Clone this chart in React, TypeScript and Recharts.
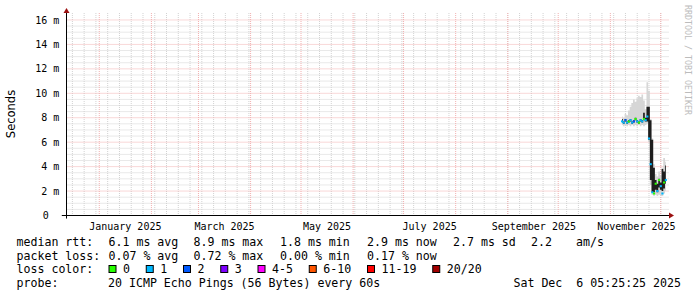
import {
  Area,
  CartesianGrid,
  ComposedChart,
  ReferenceDot,
  ReferenceLine,
  Scatter,
  XAxis,
  YAxis,
} from "recharts"

const MONO = "'DejaVu Sans Mono', monospace"
const SANS = "'DejaVu Sans', sans-serif"

// x values are days counted from 1 Jan 2025
const xDomain: [number, number] = [-19.5, 338.9]
const yDomain: [number, number] = [0, 16.57]

const monthStarts = [0, 31, 59, 90, 120, 151, 181, 212, 243, 273, 304, 334]
const mondays = Array.from({ length: 51 }, (_, i) => -16 + 7 * i)
const labelMonths = [0, 59, 120, 181, 243, 304]
const labelNames = ["January 2025", "March 2025", "May 2025", "July 2025", "September 2025", "November 2025"]
const yTicks = [0, 2, 4, 6, 8, 10, 12, 14, 16]
const yMinor = Array.from({ length: 33 }, (_, i) => i * 0.5).filter((v) => v > 0 && v % 2 !== 0)

// daily samples (ms)
const days = [311, 312, 313, 314, 315, 316, 317, 318, 319, 320, 321, 322, 323, 324, 325, 326, 327, 328, 329, 330, 331, 332, 333, 334, 335, 336, 337]
const median = [7.7, 7.6, 7.8, 7.6, 7.7, 7.8, 7.6, 7.7, 7.9, 7.7, 7.6, 7.8, 7.7, 7.9, 7.8, 8.1, 6.3, 4.2, 1.9, 1.8, 2.6, 2.0, 2.9, 2.4, 1.8, 2.7, 2.9]
const smokeLo = [7.4, 7.3, 7.4, 7.3, 7.4, 7.3, 7.4, 7.3, 7.4, 7.3, 7.4, 7.3, 7.4, 7.3, 7.4, 7.5, 6.0, 2.5, 1.7, 1.6, 1.7, 1.6, 1.7, 1.6, 1.6, 1.8, 2.0]
const smokeHi = [8.1, 8.0, 8.3, 8.2, 8.6, 8.9, 9.2, 9.5, 9.3, 9.6, 9.8, 9.7, 9.9, 9.4, 8.7, 10.9, 10.2, 7.9, 6.3, 4.2, 3.4, 3.2, 3.6, 3.3, 3.9, 4.7, 4.4]
const darkLo = [7.6, 7.5, 7.7, 7.5, 7.6, 7.7, 7.5, 7.6, 7.8, 7.6, 7.5, 7.7, 7.6, 7.8, 7.7, 7.7, 6.2, 2.9, 1.9, 1.9, 2.1, 1.9, 2.3, 2.1, 2.0, 2.2, 2.6]
const darkHi = [7.9, 7.7, 7.9, 7.7, 7.8, 7.9, 7.7, 7.8, 8.0, 7.8, 7.7, 7.9, 7.8, 8.4, 8.0, 8.9, 8.9, 7.8, 6.2, 3.9, 2.9, 2.6, 3.0, 2.7, 3.8, 3.6, 4.1]
const loss = [1, 1, 2, 1, 0, 1, 1, 2, 0, 1, 0, 1, 1, 0, 1, 1, 1, 1, 1, 0, 0, 1, 0, 1, 1, 0, 1]

const lossLabels = ["0", "1", "2", "3", "4-5", "6-10", "11-19", "20/20"]
const lossColors = ["#26ff00", "#00b8ff", "#0059ff", "#7e00ff", "#ff00ff", "#ff5500", "#ff0000", "#a10000"]

const rttStats = ["6.1 ms avg", "8.9 ms max", "1.8 ms min", "2.9 ms now", "2.7 ms sd", "2.2"]
const lossStats = ["0.07 % avg", "0.72 % max", "0.00 % min", "0.17 % now"]
const statX = [108.5, 193.5, 280, 367, 453, 531]

const rows = days.map((d, i) => ({
  day: d,
  smoke: [smokeLo[i], smokeHi[i]],
  dark: [darkLo[i], darkHi[i]],
  median: median[i],
  loss: loss[i],
}))

function YTick(props: any) {
  const { x, y, payload } = props
  const v = payload.value
  return (
    <text x={x} y={y} dx={v === 0 ? -10.5 : 0} dy="0.36em" textAnchor="end" fontFamily={MONO} fontSize={10} fill="#000">
      {v === 0 ? "0" : `${v} m`}
    </text>
  )
}

function MedianMark(props: any) {
  const { cx, cy, payload } = props
  return <rect x={cx - 1.1} y={cy - 1} width={2.2} height={2} fill={lossColors[payload.loss]} />
}

function XArrow(props: any) {
  const { cx, cy } = props
  return <polygon points={`${cx},${cy - 3} ${cx + 5},${cy} ${cx},${cy + 3}`} fill="#9b1010" />
}

function YArrow(props: any) {
  const { cx, cy } = props
  return <polygon points={`${cx - 3},${cy} ${cx},${cy - 5} ${cx + 3},${cy}`} fill="#9b1010" />
}

function Legend() {
  let sx = 108.5
  const swatches = lossLabels.map((l, i) => {
    const item = { x: sx, label: l, color: lossColors[i] }
    sx += 14.5 + l.length * 7 + 15.75
    return item
  })
  const txt = { fontFamily: MONO, fontSize: 11.6, fill: "#000" }
  return (
    <svg width={697} height={297} style={{ position: "absolute", left: 0, top: 0, pointerEvents: "none" }}>
      <text x={11} y={114} transform="rotate(-90 11 114)" dy="0.36em" textAnchor="middle" fontFamily={SANS} fontSize={11.5} fill="#000">
        Seconds
      </text>
      <text x={685} y={5} transform="rotate(90 685 5)" fontFamily={MONO} fontSize={8.3} fill="#bcbcbc">
        RRDTOOL / TOBI OETIKER
      </text>
      <text x={16.5} y={246} {...txt}>median rtt:</text>
      {rttStats.map((s, i) => (
        <text key={s} x={statX[i]} y={246} {...txt}>{s}</text>
      ))}
      <text x={576} y={246} {...txt}>am/s</text>
      <text x={16.5} y={259.5} {...txt}>packet loss:</text>
      {lossStats.map((s, i) => (
        <text key={s} x={statX[i]} y={259.5} {...txt}>{s}</text>
      ))}
      <text x={16.5} y={273} {...txt}>loss color:</text>
      {swatches.map((s) => (
        <g key={s.label}>
          <rect x={s.x + 0.5} y={265.5} width={7} height={7} fill={s.color} stroke="#000" strokeWidth={1} />
          <text x={s.x + 14.5} y={273} {...txt}>{s.label}</text>
        </g>
      ))}
      <text x={16.5} y={286.5} {...txt}>probe:</text>
      <text x={108} y={286.5} {...txt}>20 ICMP Echo Pings (56 Bytes) every 60s</text>
      <text x={681} y={286.5} textAnchor="end" xmlSpace="preserve" {...txt}>Sat Dec  6 05:25:25 2025</text>
    </svg>
  )
}

export default function App() {
  return (
    <div style={{ position: "absolute", left: 0, top: 0, width: 697, height: 297, background: "#fff" }}>
      <ComposedChart width={697} height={297} data={rows} margin={{ top: 13, right: 28, bottom: 61.5, left: 0 }}>
        <CartesianGrid horizontalValues={yMinor} verticalValues={mondays} stroke="#d2d2d2" strokeDasharray="1 1" />
        <CartesianGrid horizontalValues={yTicks.filter((v) => v > 0)} verticalValues={monthStarts} stroke="#f2b0b0" strokeDasharray="1 1" />
        <XAxis
          type="number"
          dataKey="day"
          domain={xDomain}
          allowDataOverflow
          ticks={labelMonths.map((m) => m + 15.5)}
          tickFormatter={(v) => labelNames[labelMonths.indexOf(v - 15.5)] ?? ""}
          interval={0}
          height={20}
          axisLine={false}
          tickLine={false}
          tickSize={5}
          tickMargin={2}
          tick={{ fontFamily: MONO, fontSize: 10, fill: "#000" }}
        />
        <YAxis
          type="number"
          domain={yDomain}
          allowDataOverflow
          ticks={yTicks}
          interval={0}
          width={66.5}
          axisLine={false}
          tickLine={false}
          tickSize={5}
          tickMargin={2.2}
          tick={<YTick />}
        />
        <Area dataKey="smoke" type="step" fill="#d6d6d6" fillOpacity={1} stroke="none" isAnimationActive={false} />
        <Area dataKey="dark" type="step" fill="#1e1e1e" fillOpacity={1} stroke="none" isAnimationActive={false} />
        <Scatter dataKey="median" shape={<MedianMark />} isAnimationActive={false} />
        <ReferenceLine
          segment={[{ x: -22.3, y: 0 }, { x: xDomain[1], y: 0 }]}
          stroke="#000"
          ifOverflow="visible"
        />
        <ReferenceLine
          segment={[{ x: xDomain[0], y: -0.25 }, { x: xDomain[0], y: yDomain[1] }]}
          stroke="#000"
          ifOverflow="visible"
        />
        <ReferenceDot x={xDomain[1]} y={0} ifOverflow="visible" shape={<XArrow />} />
        <ReferenceDot x={xDomain[0]} y={yDomain[1]} ifOverflow="visible" shape={<YArrow />} />
      </ComposedChart>
      <Legend />
    </div>
  )
}
